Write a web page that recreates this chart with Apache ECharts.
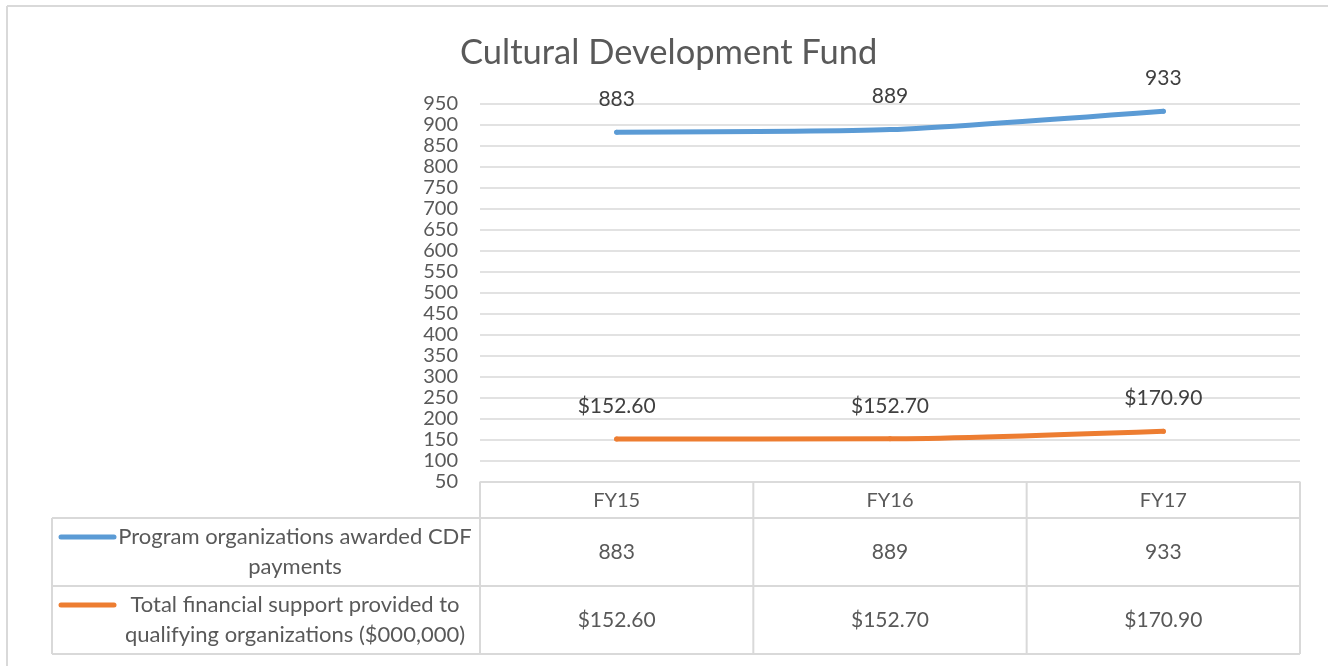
<!DOCTYPE html>
<html>
<head>
<meta charset="utf-8">
<script src="https://cdn.jsdelivr.net/npm/echarts@6/dist/echarts.min.js"></script>
<style>
  html, body { margin: 0; padding: 0; background: #fff; }
  #chart { width: 1328px; height: 666px; }
</style>
</head>
<body>
<div id="chart"></div>
<script>
// data
const years = ['FY15', 'FY16', 'FY17']
const orgsAwarded = [883, 889, 933]
const financialSupport = [152.6, 152.7, 170.9]
const seriesNames = [
  'Program organizations awarded CDF\npayments',
  'Total financial support provided to\nqualifying organizations ($000,000)'
]

const FONT = 'Lato, "Open Sans", sans-serif'
const TEXT = '#595959'
const LINE = '#d9d9d9'
const COLORS = ['#5b9bd5', '#ed7d31']

// layout of the plot + data table
const gridLeft = 480, gridRight = 1300, gridTop = 104, gridBottom = 482
const tableLeft = 52
const rowBottoms = [518, 586, 654]

const fmtMoney = v => '$' + v.toFixed(2)

const chart = echarts.init(document.getElementById('chart'))

const option = {
  animation: false,
  title: {
    text: 'Cultural Development Fund',
    left: 455,
    top: 30,
    textStyle: { fontFamily: FONT, fontSize: 34.5, fontWeight: 'normal', color: TEXT }
  },
  grid: {
    left: gridLeft,
    right: 1328 - gridRight,
    top: gridTop,
    height: gridBottom - gridTop
  },
  xAxis: {
    type: 'category',
    data: years,
    boundaryGap: true,
    axisLine: { show: true, lineStyle: { color: LINE, width: 1.5 } },
    axisTick: { show: false },
    axisLabel: { margin: 9, fontFamily: FONT, fontSize: 20, color: TEXT }
  },
  yAxis: {
    type: 'value',
    min: 50,
    max: 950,
    interval: 50,
    axisLine: { show: false },
    axisTick: { show: false },
    axisLabel: { margin: 22, fontFamily: FONT, fontSize: 20, color: TEXT },
    splitLine: { lineStyle: { color: LINE, width: 1.5 } }
  },
  series: [
    {
      name: seriesNames[0],
      type: 'line',
      data: orgsAwarded,
      smooth: 0.2,
      symbol: 'circle',
      symbolSize: 5,
      itemStyle: { color: COLORS[0] },
      lineStyle: { color: COLORS[0], width: 5, cap: 'round' },
      label: {
        show: true, position: 'top', distance: 20,
        fontFamily: FONT, fontSize: 21, color: '#404040'
      }
    },
    {
      name: seriesNames[1],
      type: 'line',
      data: financialSupport,
      smooth: 0.2,
      symbol: 'circle',
      symbolSize: 5,
      itemStyle: { color: COLORS[1] },
      lineStyle: { color: COLORS[1], width: 5, cap: 'round' },
      label: {
        show: true, position: 'top', distance: 20,
        fontFamily: FONT, fontSize: 21, color: '#404040',
        formatter: p => fmtMoney(p.value)
      }
    }
  ]
}

chart.setOption(option)

// data table below the plot
const buildTable = () => {
  const els = []
  const ln = (x1, y1, x2, y2, color, w) => els.push({
    type: 'line', silent: true,
    shape: { x1, y1, x2, y2 },
    style: { stroke: color || LINE, lineWidth: w || 2 }
  })

  // outer frame of the chart area
  ln(7, 6, 1328, 6, '#d9d9d9', 2)
  ln(7, 6, 7, 666, '#d9d9d9', 2)

  // column boundaries
  const cx = years.map((y, i) => chart.convertToPixel({ xAxisIndex: 0 }, i))
  const step = (gridRight - gridLeft) / years.length
  const colEdges = years.map((y, i) => gridLeft + step * i).concat([gridRight])

  colEdges.forEach(x => ln(x, gridBottom, x, rowBottoms[2]))
  ln(tableLeft, rowBottoms[0], tableLeft, rowBottoms[2])
  rowBottoms.forEach(y => ln(tableLeft, y, gridRight, y))

  const rows = [orgsAwarded.map(v => String(v)), financialSupport.map(fmtMoney)]
  rows.forEach((vals, r) => {
    const top = rowBottoms[r]
    const mid = (top + rowBottoms[r + 1]) / 2
    vals.forEach((v, i) => els.push({
      type: 'text', silent: true,
      style: {
        x: cx[i], y: mid, text: v, align: 'center', verticalAlign: 'middle',
        fontFamily: FONT, fontSize: 21, fill: TEXT
      }
    }))
    // legend key + series name
    els.push({
      type: 'line', silent: true,
      shape: { x1: 61, y1: top + 19, x2: 114, y2: top + 19 },
      style: { stroke: COLORS[r], lineWidth: 5, lineCap: 'round' }
    })
    els.push({
      type: 'text', silent: true,
      style: {
        x: 295, y: mid, text: seriesNames[r], align: 'center', verticalAlign: 'middle',
        lineHeight: 30, fontFamily: FONT, fontSize: 22, fill: TEXT
      }
    })
  })
  return els
}

chart.setOption({ graphic: buildTable() })

window.addEventListener('resize', () => chart.resize())
</script>
</body>
</html>
